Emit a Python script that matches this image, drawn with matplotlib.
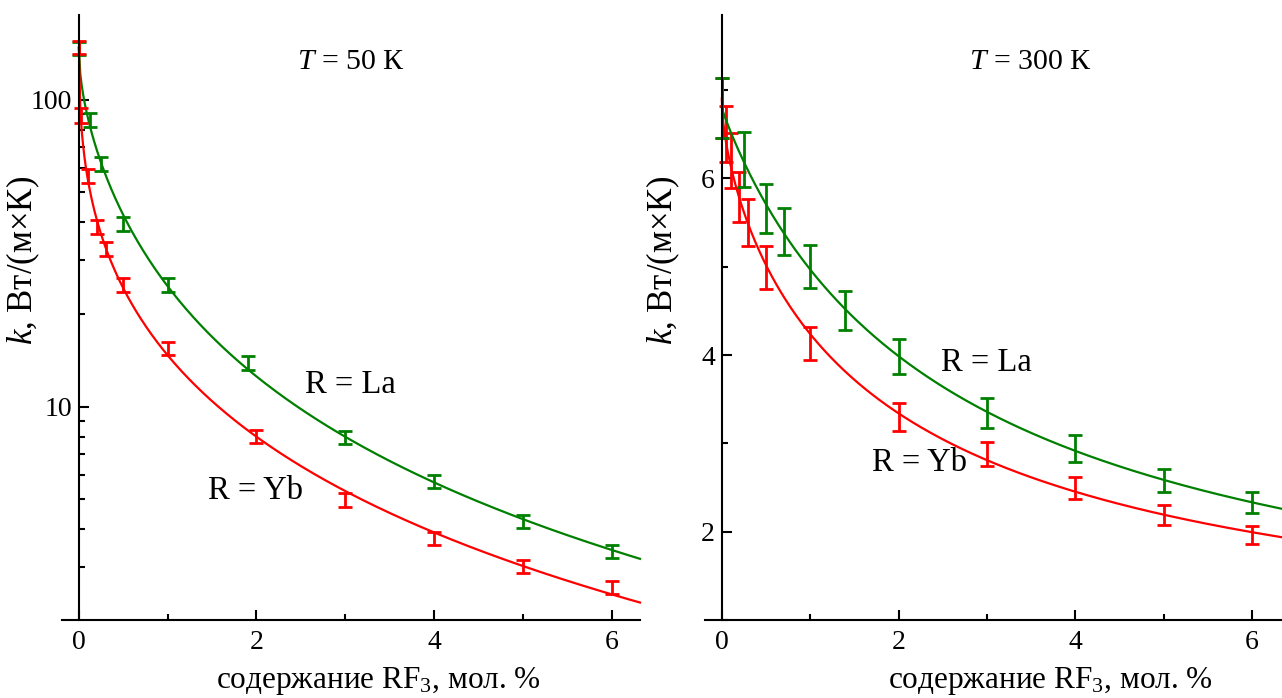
import numpy as np
import matplotlib
matplotlib.use("Agg")
import matplotlib.pyplot as plt
from matplotlib.ticker import MultipleLocator, LogLocator, NullFormatter, FuncFormatter

plt.rcParams["font.family"] = ["Liberation Serif", "DejaVu Serif"]
plt.rcParams["mathtext.fontset"] = "custom"
plt.rcParams["mathtext.rm"] = "Liberation Serif"
plt.rcParams["mathtext.it"] = "Liberation Serif:italic"

RED = "#ff0000"
GREEN = "#008000"

# T = 50 K, log scale
x50_yb = [0, 0.02, 0.1, 0.2, 0.3, 0.5, 1, 2, 3, 4, 5, 6]
k50_yb = [148, 89, 56.4, 38.5, 32.7, 25.0, 15.5, 8.0, 4.98, 3.73, 3.03, 2.58]
e50_yb = [7, 5, 3, 2, 1.7, 1.3, 0.8, 0.4, 0.25, 0.19, 0.15, 0.13]

x50_la = [0, 0.12, 0.25, 0.5, 1, 1.9, 3, 4, 5, 6]
k50_la = [147, 86.3, 61.7, 39.4, 25.0, 13.9, 7.96, 5.71, 4.23, 3.38]
e50_la = [7, 4.5, 3.2, 2, 1.3, 0.7, 0.4, 0.29, 0.21, 0.17]

# T = 300 K, linear scale
x300_yb = [0, 0.05, 0.1, 0.2, 0.3, 0.5, 1, 2, 3, 4, 5, 6]
k300_yb = [6.80, 6.50, 6.20, 5.79, 5.50, 4.99, 4.13, 3.30, 2.88, 2.49, 2.19, 1.965]
e300_yb = [0.34, 0.32, 0.31, 0.28, 0.27, 0.24, 0.19, 0.16, 0.14, 0.125, 0.11, 0.10]

x300_la = [0, 0.25, 0.5, 0.7, 1, 1.4, 2, 3, 4, 5, 6]
k300_la = [6.80, 6.21, 5.66, 5.40, 5.0, 4.50, 3.98, 3.345, 2.94, 2.58, 2.33]
e300_la = [0.34, 0.31, 0.28, 0.27, 0.245, 0.22, 0.2, 0.17, 0.15, 0.13, 0.12]


def fit_curve(x, k, xmax, deg=3):
    # thermal resistance 1/k fitted as a polynomial in sqrt(x), relative weights
    s = np.sqrt(np.asarray(x, float))
    k = np.asarray(k, float)
    c = np.polyfit(s, 1.0 / k, deg, w=k)
    xs = np.linspace(0, xmax, 400)
    return xs, 1.0 / np.polyval(c, np.sqrt(xs))


def style_axes(ax):
    ax.spines["top"].set_visible(False)
    ax.spines["right"].set_visible(False)
    ax.spines["left"].set_position(("data", 0))
    for sp in ("left", "bottom"):
        ax.spines[sp].set_linewidth(1.5)
    ax.xaxis.set_major_locator(MultipleLocator(2))
    ax.xaxis.set_minor_locator(MultipleLocator(1))
    ax.tick_params(which="both", direction="in", width=1.5, labelsize=20)
    ax.tick_params(which="major", length=7, pad=5)
    ax.tick_params(which="minor", length=4)
    ax.tick_params(axis="x", which="major", pad=7)


def draw(ax, x, k, e, color, xmax):
    xs, ys = fit_curve(x, k, xmax)
    ax.plot(xs, ys, color=color, lw=1.6, clip_on=False)
    ax.errorbar(x, k, yerr=e, fmt="none", ecolor=color, elinewidth=2,
                capsize=5.2, capthick=2, clip_on=False)


W, H = 1282, 698
fig = plt.figure(figsize=(W / 100, H / 100), dpi=100)
ax1 = fig.add_axes([62 / W, 78 / H, 578 / W, 605 / H])
ax2 = fig.add_axes([705 / W, 78 / H, 577 / W, 605 / H])

# left panel
ax1.set_yscale("log")
draw(ax1, x50_la, k50_la, e50_la, GREEN, 6.32)
draw(ax1, x50_yb, k50_yb, e50_yb, RED, 6.32)
ax1.set_xlim(-0.19, 6.32)
ax1.set_ylim(2.02, 189)
style_axes(ax1)
ax1.yaxis.set_major_locator(LogLocator(base=10))
ax1.yaxis.set_minor_locator(LogLocator(base=10, subs=np.arange(2, 10)))
ax1.yaxis.set_major_formatter(FuncFormatter(lambda v, p: f"{v:g}"))
ax1.yaxis.set_minor_formatter(NullFormatter())

# right panel
draw(ax2, x300_yb, k300_yb, e300_yb, RED, 6.34)
draw(ax2, x300_la, k300_la, e300_la, GREEN, 6.34)
ax2.set_xlim(-0.19, 6.34)
ax2.set_ylim(1.0, 7.85)
style_axes(ax2)
ax2.yaxis.set_major_locator(MultipleLocator(2))
ax2.yaxis.set_minor_locator(MultipleLocator(1))

xlab = "содержание RF$_3$, мол. %"
ylab = "$k$, Вт/(м×К)"
for ax, x0, w, lx, ly in [(ax1, 62, 578, 378, 23), (ax2, 705, 577, 1050, 663)]:
    ax.text((lx - x0) / w, (620 - 688) / 605, xlab, transform=ax.transAxes,
            ha="center", va="baseline", fontsize=22.5)
    ax.text((ly - x0) / w, (620 - 260) / 605, ylab, transform=ax.transAxes,
            ha="center", va="center", rotation=90, fontsize=25)


def put(ax, x0, w, px, py, s, size=23.5):
    ax.text((px - x0) / w, (620 - py) / 605, s, transform=ax.transAxes,
            ha="center", va="center", fontsize=size)


put(ax1, 62, 578, 351, 62, "$T$ = 50 К", 21.5)
put(ax1, 62, 578, 350, 385, "R = La")
put(ax1, 62, 578, 255, 491, "R = Yb")
put(ax2, 705, 577, 1030, 62, "$T$ = 300 К", 21.5)
put(ax2, 705, 577, 986, 363, "R = La")
put(ax2, 705, 577, 920, 463, "R = Yb")

fig.savefig("out.png", dpi=100)
